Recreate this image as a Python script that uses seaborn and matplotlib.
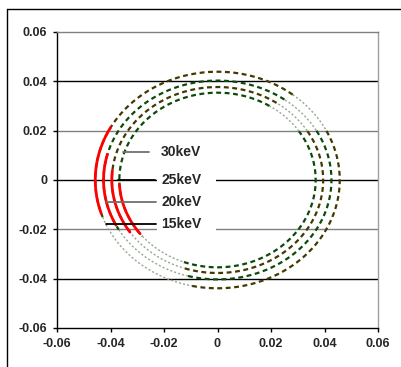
import numpy as np
import matplotlib
matplotlib.use("Agg")
import matplotlib.pyplot as plt
import seaborn as sns
from matplotlib.lines import Line2D
from matplotlib.patches import Rectangle

# ellipse semi-axes (outermost first)
energies = ["15keV", "20keV", "25keV", "30keV"]
radius_x = [0.0457, 0.0426, 0.0395, 0.0367]
radius_y = [0.0439, 0.0403, 0.0377, 0.0354]
ring_colors = ["#403a00", "#0b4a0b", "#403a00", "#0b4a0b"]

# red arc extent (degrees) on each ring
red_start = [151, 165, 174, 183]
red_end = [198, 207, 214, 218]

# light-grey stretches on each ring (degrees): lower left and upper right
light_start = [200, 210, 216, 220]
light_end = [258, 255, 252, 250]
light2_start = [28, 30, 32, 34]
light2_end = [52, 54, 56, 58]

# label text positions / leader lines (data units)
label_y = [-0.0178, -0.0088, 0.0002, 0.0114]
leader_x0 = [-0.0417, -0.0417, -0.0372, -0.0353]
leader_x1 = [-0.0230, -0.0230, -0.0234, -0.0256]
leader_colors = ["black", "#707070", "black", "#707070"]

grid_y = [0.04, 0.02, 0.0, -0.02, -0.04]
grid_colors = ["black", "#808080", "black", "#808080", "black"]
ticks = [-0.06, -0.04, -0.02, 0.0, 0.02, 0.04, 0.06]

sns.set_style("white")
plt.rcParams["font.family"] = ["Liberation Sans", "DejaVu Sans"]

fig = plt.figure(figsize=(4.01, 3.67), dpi=100)
ax = fig.add_axes([57 / 401, 1 - 328 / 367, 321 / 401, 296 / 367])


def arc(i, a0, a1):
    t = np.radians(np.linspace(a0, a1, 200))
    return radius_x[i] * np.cos(t), radius_y[i] * np.sin(t)


def dark(i, a0, a1):
    x, y = arc(i, a0, a1)
    sns.lineplot(x=x, y=y, sort=False, ax=ax, color=ring_colors[i], lw=1.6,
                 linestyle=(0, (2.2, 1.6)), zorder=3)


def light(i, a0, a1):
    x, y = arc(i, a0, a1)
    sns.lineplot(x=x, y=y, sort=False, ax=ax, color="#98a890", lw=1.0,
                 linestyle=(0, (1.5, 1.5)), zorder=3)


for y, c in zip(grid_y, grid_colors):
    ax.axhline(y, color=c, lw=1.0, zorder=1)

for i in range(len(energies)):
    dark(i, light_end[i], 360 + light2_start[i])
    dark(i, light2_end[i], light_start[i])
    light(i, light_start[i], light_end[i])
    light(i, light2_start[i], light2_end[i])
    x, y = arc(i, red_start[i], red_end[i])
    sns.lineplot(x=x, y=y, sort=False, ax=ax, color="#ff0000", lw=2.0, zorder=4)

# white text box hiding the grid behind the labels
ax.add_patch(Rectangle((-0.0226, -0.0235), 0.022, 0.0395, facecolor="white",
                       edgecolor="none", zorder=5))

for i, lab in enumerate(energies):
    ax.plot([leader_x0[i], leader_x1[i]], [label_y[i], label_y[i]],
            color=leader_colors[i], lw=1.3, zorder=6)
    ax.text(-0.0211, label_y[i], lab, fontsize=10, fontweight="bold",
            va="center", ha="left", zorder=7)

ax.set_xlim(-0.06, 0.06)
ax.set_ylim(-0.06, 0.06)
ax.set_xticks(ticks)
ax.set_yticks(ticks)
ax.set_xticklabels([f"{v:g}" for v in ticks], fontsize=9, fontweight="bold")
ax.set_yticklabels([f"{v:g}" for v in ticks], fontsize=9, fontweight="bold")
ax.tick_params(direction="out", length=3, width=1, color="black", pad=4,
               bottom=True, left=True)
ax.set_xlabel("")
ax.set_ylabel("")
ax.spines["left"].set_color("black")
ax.spines["bottom"].set_color("black")
ax.spines["top"].set_color("#808080")
ax.spines["right"].set_color("#a0a0a0")
for s in ax.spines.values():
    s.set_linewidth(1.0)

# outer chart frame (left and top edges only visible)
fig.add_artist(Line2D([7 / 401, 7 / 401], [0, 1 - 9 / 367], color="black", lw=1.0))
fig.add_artist(Line2D([7 / 401, 1], [1 - 9 / 367, 1 - 9 / 367], color="black", lw=1.0))

fig.savefig("out.png", dpi=100)
